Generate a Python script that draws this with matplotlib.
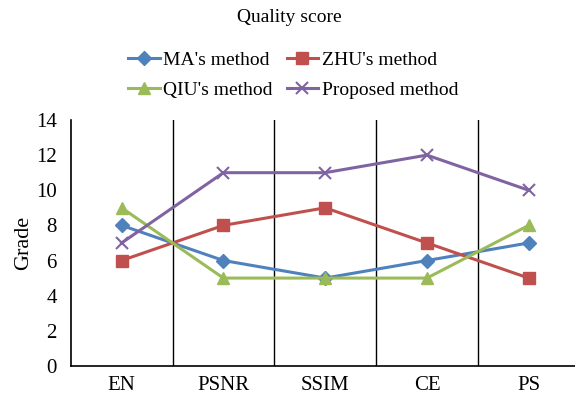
import matplotlib.pyplot as plt
import numpy as np

plt.rcParams["font.family"] = ["Liberation Serif", "DejaVu Serif"]

categories = ["EN", "PSNR", "SSIM", "CE", "PS"]
ma_scores = [8, 6, 5, 6, 7]
zhu_scores = [6, 8, 9, 7, 5]
qiu_scores = [9, 5, 5, 5, 8]
proposed_scores = [7, 11, 11, 12, 10]
y_ticks = [0, 2, 4, 6, 8, 10, 12, 14]

fig = plt.figure(figsize=(5.75, 3.96), dpi=100)
ax = fig.add_axes([0.123, 0.076, 0.885, 0.621])

x = np.arange(len(categories))
l_ma, = ax.plot(x, ma_scores, "-D", color="#4F81BD", lw=2.2, ms=7, label="MA's method")
l_zhu, = ax.plot(x, zhu_scores, "-s", color="#C0504D", lw=2.2, ms=8.5, label="ZHU's method")
l_qiu, = ax.plot(x, qiu_scores, "-^", color="#9BBB59", lw=2.2, ms=8.5, label="QIU's method")
l_prop, = ax.plot(x, proposed_scores, "-x", color="#8064A2", lw=2.2, ms=8, mew=1.5,
                  label="Proposed method")

# category separators
for b in np.arange(0.5, len(categories) - 1, 1.0):
    ax.axvline(b, color="black", lw=1.0, zorder=0)

ax.set_xlim(-0.5, len(categories) - 0.5)
ax.set_ylim(0, 14)
ax.set_xticks(x)
ax.set_xticklabels(categories)
ax.set_yticks(y_ticks)
ax.tick_params(length=0, labelsize=15, pad=7)
ax.tick_params(axis="y", pad=10)
for s in ["top", "right"]:
    ax.spines[s].set_visible(False)
for s in ["left", "bottom"]:
    ax.spines[s].set_linewidth(1.2)
ax.set_ylabel("Grade", fontsize=16, labelpad=2)

fig.text(0.503, 0.957, "Quality score", ha="center", va="center", fontsize=14)
# legend filled row by row: MA, ZHU / QIU, Proposed
handles = [l_ma, l_qiu, l_zhu, l_prop]
fig.legend(handles, [h.get_label() for h in handles], loc="center",
           bbox_to_anchor=(0.51, 0.81), ncol=2, frameon=False,
           fontsize=14, handlelength=1.6, handletextpad=0.2, columnspacing=0.7,
           labelspacing=0.62, borderaxespad=0)

fig.savefig("out.png", dpi=100)
